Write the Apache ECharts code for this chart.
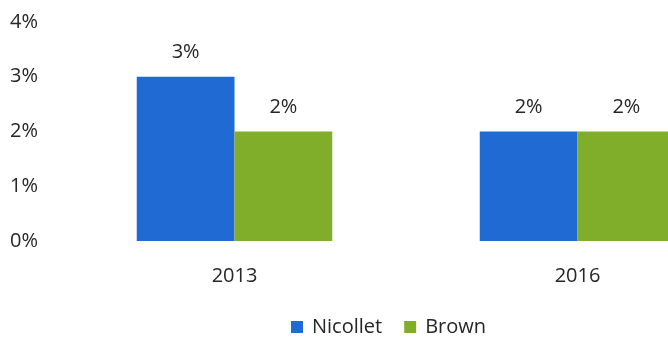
<!DOCTYPE html>
<html>
<head>
<meta charset="utf-8">
<script src="https://cdn.jsdelivr.net/npm/echarts@6/dist/echarts.min.js"></script>
<style>
  html, body { margin: 0; padding: 0; background: #fff; }
  #chart { width: 668px; height: 338px; overflow: hidden; }
</style>
</head>
<body>
<div id="chart"></div>
<script>
// Survey years and the share reported for each county (percent)
const years = ['2013', '2016'];
const nicollet = [3, 2];
const brown = [2, 2];
const seriesNames = ['Nicollet', 'Brown'];

const FONT = '"Open Sans", "Noto Sans", sans-serif';
const TEXT = '#262626';
const SIZE = 20;

const chart = echarts.init(document.getElementById('chart'));
const pct = v => v + '%';

chart.setOption({
  animation: false,
  backgroundColor: '#ffffff',
  textStyle: { fontFamily: FONT },
  // plot area runs past the right edge, so the 2016 Brown bar is cut off
  grid: { left: 63, width: 686, top: 22, bottom: 97, containLabel: false, outerBoundsMode: 'none' },
  legend: {
    data: seriesNames,
    left: 291,
    top: 317,
    padding: 0,
    itemWidth: 12,
    itemHeight: 12,
    itemGap: 22,
    icon: 'rect',
    textStyle: { fontFamily: FONT, fontSize: SIZE, color: TEXT, padding: [0, 0, 0, 4] }
  },
  xAxis: {
    type: 'category',
    data: years,
    axisLine: { show: false },
    axisTick: { show: false },
    axisLabel: { fontFamily: FONT, fontSize: SIZE, color: TEXT, margin: 25 }
  },
  yAxis: {
    type: 'value',
    min: 0,
    max: 4,
    interval: 1,
    splitLine: { show: false },
    axisLine: { show: false },
    axisTick: { show: false },
    axisLabel: { fontFamily: FONT, fontSize: SIZE, color: TEXT, margin: 25, formatter: pct }
  },
  series: [
    {
      name: seriesNames[0],
      type: 'bar',
      data: nicollet,
      barGap: '0%',
      barCategoryGap: '43%',
      itemStyle: { color: '#1f6bd3' },
      label: { show: true, position: 'top', distance: 14, fontFamily: FONT, fontSize: SIZE, color: TEXT, formatter: p => pct(p.value) }
    },
    {
      name: seriesNames[1],
      type: 'bar',
      data: brown,
      itemStyle: { color: '#80ad2a' },
      label: { show: true, position: 'top', distance: 14, fontFamily: FONT, fontSize: SIZE, color: TEXT, formatter: p => pct(p.value) }
    }
  ]
});
</script>
</body>
</html>
